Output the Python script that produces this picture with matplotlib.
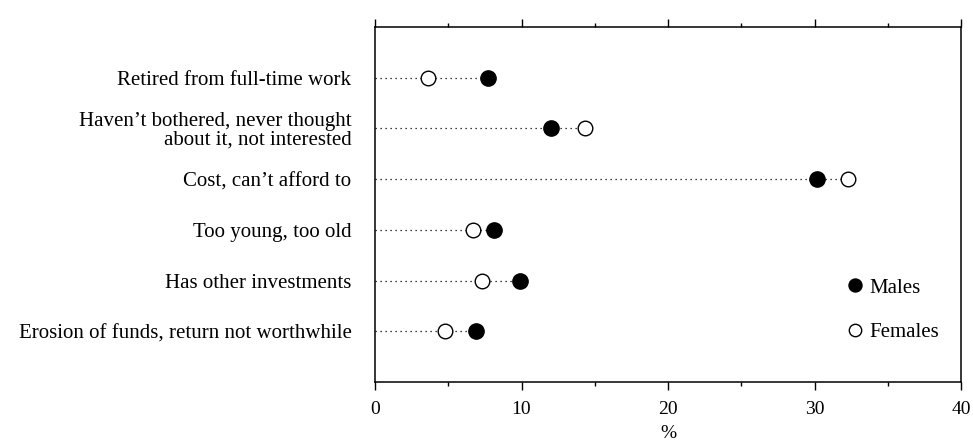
import matplotlib.pyplot as plt
from matplotlib.ticker import MultipleLocator

plt.rcParams['font.family'] = ['Liberation Serif', 'DejaVu Serif']

# Reasons for not having a pension, % by sex
reasons = [
    "Retired from full-time work",
    "Haven\u2019t bothered, never thought\nabout it, not interested",
    "Cost, can\u2019t afford to",
    "Too young, too old",
    "Has other investments",
    "Erosion of funds, return not worthwhile",
]
males = [7.7, 12.0, 30.2, 8.1, 9.9, 6.9]
females = [3.6, 14.3, 32.3, 6.7, 7.3, 4.8]

fig = plt.figure(figsize=(9.73, 4.46), dpi=100)
ax = fig.add_axes([0.3854, 0.1435, 0.6023, 0.796])

ypos = list(range(1, len(reasons) + 1))

# dotted guide from the axis to the furthest point
for y, m, f in zip(ypos, males, females):
    ax.plot([0, max(m, f)], [y, y], linestyle=(0, (1, 3)), color='black', lw=0.9, zorder=1)

ax.plot(males, ypos, 'o', color='black', markersize=11, linestyle='none', label='Males', zorder=3)
ax.plot(females, ypos, 'o', markerfacecolor='white', markeredgecolor='black', markeredgewidth=1.0,
        markersize=10.5, linestyle='none', label='Females', zorder=3)

ax.set_xlim(0, 40)
ax.set_ylim(7, 0)
ax.set_yticks(ypos)
ax.set_yticklabels(reasons, fontsize=15, linespacing=0.95)
ax.tick_params(axis='y', length=0, pad=17)

ax.xaxis.set_major_locator(MultipleLocator(10))
ax.xaxis.set_minor_locator(MultipleLocator(5))
ax.tick_params(axis='x', which='major', length=6, width=1, labelsize=14, top=True, direction='out', pad=8)
ax.tick_params(axis='x', which='minor', length=3, width=1, top=True, direction='out')
ax.set_xlabel('%', fontsize=14, labelpad=5)

for s in ax.spines.values():
    s.set_linewidth(1.1)

ax.legend(loc='upper left', bbox_to_anchor=(0.801, 0.293), frameon=False, fontsize=15,
          handlelength=1.0, handletextpad=0.2, labelspacing=1.2, markerscale=0.85,
          borderaxespad=0, borderpad=0)

plt.savefig('out.png', dpi=100)
